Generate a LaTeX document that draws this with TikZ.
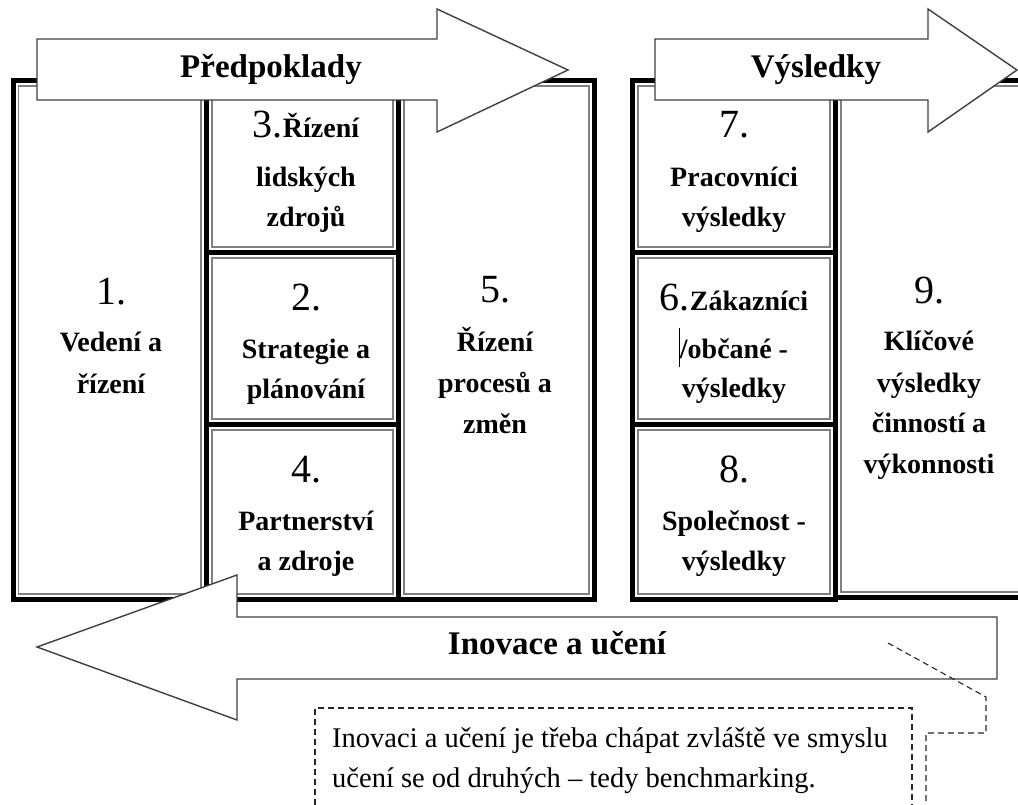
\documentclass[tikz,border=0pt]{standalone}
\usepackage{fontspec}
\setmainfont{Liberation Serif}
\usetikzlibrary{calc}
\tikzset{
  outerb/.style={line width=5pt, draw=black},
  innerb/.style={line width=1.2pt, draw=black!50},
  bigarrow/.style={draw=black!75, line width=1.4pt, fill=white, line join=miter},
  num/.style={anchor=base, inner sep=0pt, font=\fontsize{40}{48}\selectfont},
  lab/.style={anchor=base, inner sep=0pt, font=\bfseries\fontsize{28}{34}\selectfont},
  headlab/.style={anchor=base, inner sep=0pt, font=\bfseries\fontsize{33}{40}\selectfont},
  note/.style={anchor=base west, inner sep=0pt, font=\fontsize{28.5}{36}\selectfont},
  callout/.style={dash pattern=on 6pt off 4pt, line width=1.1pt, draw=black!85},
}
\newcommand\tbox[4]{%
  \draw[outerb] (#1,#2) rectangle (#3,#4);
  \draw[innerb] ($(#1,#2)+(5.5,5.5)$) rectangle ($(#3,#4)+(-5.5,-5.5)$);}
\newcommand\numsz[1]{{\mdseries\fontsize{40}{48}\selectfont #1}}
\begin{document}
\begin{tikzpicture}[x=1pt,y=-1pt]
\useasboundingbox (0,0) rectangle (1018,805);
\clip (0,0) rectangle (1018,805);
\fill[white] (0,0) rectangle (1018,805);
% left group
\tbox{13}{80.5}{206.5}{599.5}
\tbox{206.5}{80.5}{398.5}{252.5}
\tbox{206.5}{252.5}{398.5}{424.5}
\tbox{206.5}{424.5}{398.5}{599.5}
\tbox{398.5}{80.5}{594.5}{599.5}
% right group
\tbox{835.5}{80.5}{1040}{597.5}
\tbox{632.5}{80.5}{835.5}{252.5}
\tbox{632.5}{252.5}{835.5}{424.5}
\tbox{632.5}{424.5}{835.5}{599.5}
% box texts
\node[num] (n1) at (111,305) {1.};
\node[lab] (t1a) at (111,352) {Vedení a};
\node[lab] (t1b) at (111,393) {řízení};
\node[lab] (t3a) at (306,138) {\numsz{3.}Řízení};
\node[lab] (t3b) at (306,187) {lidských};
\node[lab] (t3c) at (306,227) {zdrojů};
\node[num] (n2) at (306,310) {2.};
\node[lab] (t2a) at (306,358) {Strategie a};
\node[lab] (t2b) at (306,398) {plánování};
\node[num] (n4) at (306,482) {4.};
\node[lab] (t4a) at (306,530) {Partnerství};
\node[lab] (t4b) at (306,570) {a zdroje};
\node[num] (n5) at (495,302) {5.};
\node[lab] (t5a) at (495,351) {Řízení};
\node[lab] (t5b) at (495,392) {procesů a};
\node[lab] (t5c) at (495,433) {změn};
\node[num] (n7) at (734,138) {7.};
\node[lab] (t7a) at (734,187) {Pracovníci};
\node[lab] (t7b) at (734,227) {výsledky};
\node[lab] (t6a) at (734,310) {\numsz{6.}Zákazníci};
\node[lab] (t6b) at (734,358) {/občané -};
\node[lab] (t6c) at (734,397) {výsledky};
\coordinate (cur1) at (679,328);
\coordinate (cur2) at (679,367);
\draw[line width=1pt] (cur1) -- (cur2);
\node[num] (n8) at (734,482) {8.};
\node[lab] (t8a) at (734,530) {Společnost -};
\node[lab] (t8b) at (734,570) {výsledky};
\node[num] (n9) at (929,303) {9.};
\node[lab] (t9a) at (929,350) {Klíčové};
\node[lab] (t9b) at (929,392) {výsledky};
\node[lab] (t9c) at (929,432) {činností a};
\node[lab] (t9d) at (929,473) {výkonnosti};
% arrows
\draw[bigarrow] (37,39) -- (437,39) -- (437,9) -- (568,70) -- (437,132) -- (437,100) -- (37,100) -- cycle;
\node[headlab] (pred) at (271,78) {Předpoklady};
\draw[bigarrow] (655,39) -- (928,39) -- (928,9) -- (1017,70) -- (928,132) -- (928,100) -- (655,100) -- cycle;
\node[headlab] (vys) at (816,78) {Výsledky};
\draw[bigarrow] (997,617) -- (237,617) -- (237,575) -- (37,647) -- (237,720) -- (237,679) -- (997,679) -- cycle;
\node[headlab] (inov) at (557,654) {Inovace a učení};
% callout
\draw[callout] (315,815) -- (315,708) -- (912,708) -- (912,815);
\node[note] (note1) at (332,747) {Inovaci a učení je třeba chápat zvláště ve smyslu};
\node[note] (note2) at (332,787) {učení se od druhých – tedy benchmarking.};
\coordinate (cp0) at (888,643);
\coordinate (cp1) at (986,697);
\coordinate (cp2) at (986,733);
\coordinate (cp3) at (926,733);
\coordinate (cp4) at (926,815);
\draw[callout] (cp0) -- (cp1) -- (cp2) -- (cp3) -- (cp4);
\end{tikzpicture}
\end{document}
